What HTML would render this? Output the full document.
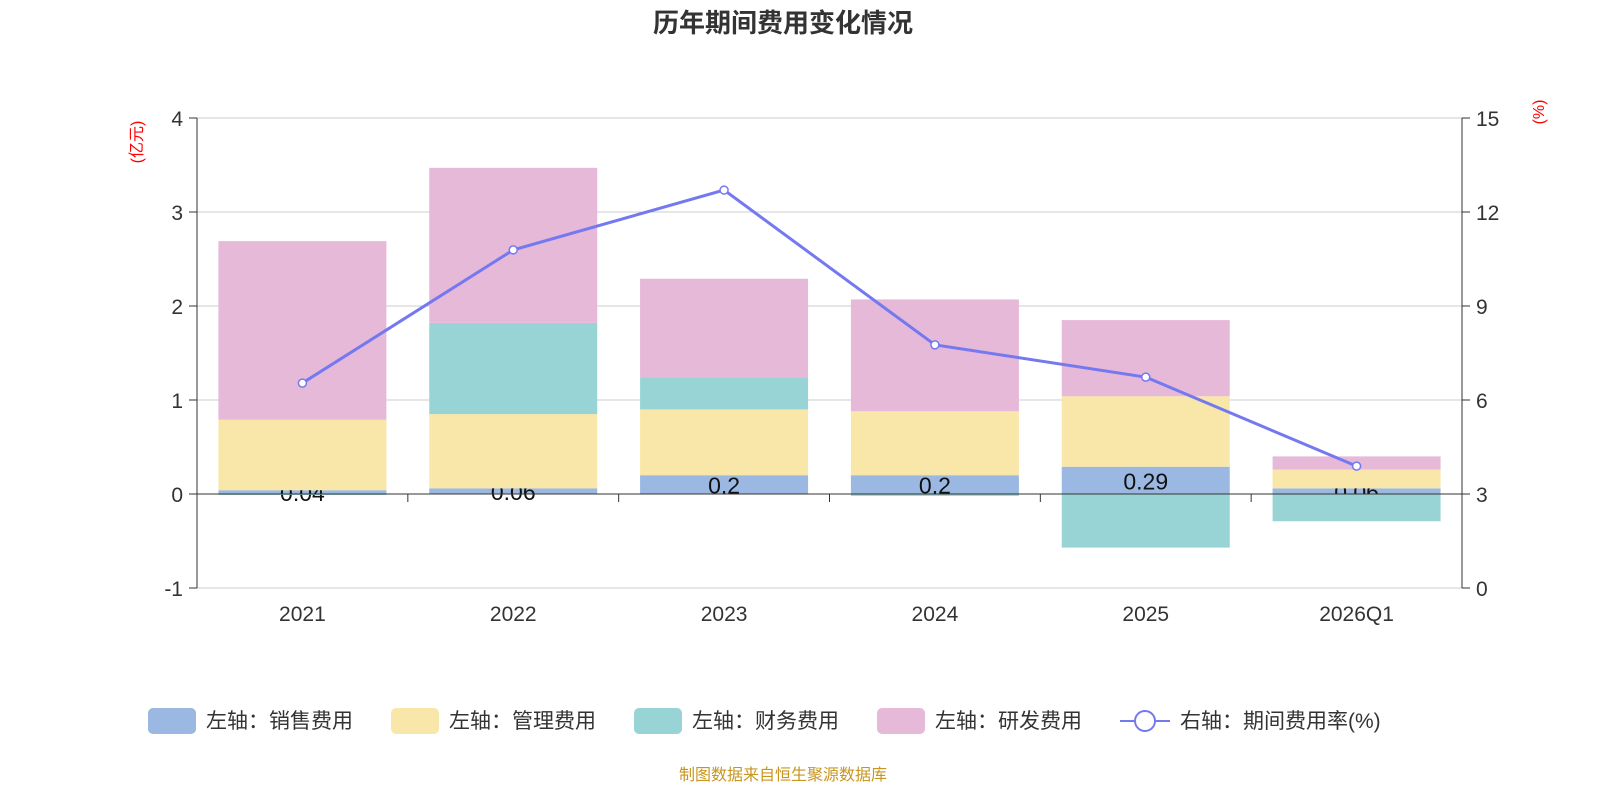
<!DOCTYPE html>
<html><head><meta charset="utf-8"><style>
body{margin:0;background:#fff;font-family:"Liberation Sans","Noto Sans CJK SC",sans-serif;}
</style></head><body>
<svg id="c" width="1600" height="800" xmlns="http://www.w3.org/2000/svg" font-family="Liberation Sans, Noto Sans CJK SC, sans-serif"></svg>
<script>
const categories=["2021","2022","2023","2024","2025","2026Q1"];
const sales=[0.04,0.06,0.2,0.2,0.29,0.06];
const mgmt=[0.75,0.79,0.70,0.68,0.75,0.20];
const fin=[-0.01,0.97,0.34,-0.02,-0.57,-0.29];
const rd=[1.90,1.65,1.05,1.19,0.81,0.14];
const rate=[6.54,10.79,12.70,7.76,6.73,3.89];
const leftTicks=[-1,0,1,2,3,4];
const rightTicks=[0,3,6,9,12,15];
const seriesNames=["左轴：销售费用","左轴：管理费用","左轴：财务费用","左轴：研发费用"];
const colors=["#9bb8e2","#f8e7a8","#98d4d6","#e6b9d9"];

const svg=document.getElementById('c');
const NS='http://www.w3.org/2000/svg';
const X0=197,X1=1462,YT=118,YB=588;
const yL=v=>YB-(v+1)/5*(YB-YT);
const yR=v=>YB-v/15*(YB-YT);
const bw=(X1-X0)/categories.length;
const xc=i=>X0+bw*(i+0.5);
function el(t,a,txt){const e=document.createElementNS(NS,t);for(const k in a)e.setAttribute(k,a[k]);if(txt!==undefined)e.textContent=txt;svg.appendChild(e);return e;}

let e=el('text',{x:783,y:32,'text-anchor':'middle','font-size':26,'font-weight':'bold',fill:'#333'},'历年期间费用变化情况');


leftTicks.forEach((t,i)=>{
  const y=yL(t);
  e=el('line',{x1:X0,x2:X1,y1:y,y2:y,stroke:'#ccc','stroke-width':1});
  
  e=el('line',{x1:X0-8,x2:X0,y1:y,y2:y,stroke:'#333'});
  
  e=el('text',{x:X0-14,y:y+8,'text-anchor':'end','font-size':21,fill:'#333'},String(t));
  
});
rightTicks.forEach(t=>{
  const y=yR(t);
  e=el('line',{x1:X1,x2:X1+8,y1:y,y2:y,stroke:'#333'});
  
  e=el('text',{x:X1+14,y:y+8,'font-size':21,fill:'#333'},String(t));
  
});
e=el('line',{x1:X0,x2:X0,y1:YT,y2:YB,stroke:'#333'});
e=el('line',{x1:X1,x2:X1,y1:YT,y2:YB,stroke:'#333'});
e=el('text',{x:0,y:0,'font-size':16,fill:'red',transform:'translate(142,142) rotate(-90)','text-anchor':'middle'},'(亿元)');

e=el('text',{x:0,y:0,'font-size':16,fill:'red',transform:'translate(1544,112) rotate(-90)','text-anchor':'middle'},'(%)');


const series=[sales,mgmt,fin,rd];
categories.forEach((c,i)=>{
  let pos=0,neg=0;
  series.forEach((s,k)=>{
    const v=s[i];let a,b;
    if(v>=0){a=pos;b=pos+v;pos=b;}else{a=neg;b=neg+v;neg=b;}
    const y1=yL(Math.max(a,b)),y2=yL(Math.min(a,b));
    e=el('rect',{x:xc(i)-84,y:y1,width:168,height:Math.max(0,y2-y1),fill:colors[k]});
    
    if(k===0){
      e=el('text',{x:xc(i),y:(yL(sales[i])+yL(0))/2+9,'text-anchor':'middle','font-size':23,fill:'#111'},String(sales[i]));
      
    }
  });
  e=el('text',{x:xc(i),y:621,'text-anchor':'middle','font-size':21,fill:'#333'},c);
  
});
e=el('line',{x1:X0,x2:X1,y1:yL(0),y2:yL(0),stroke:'#333'});
for(let i=0;i<=categories.length;i++){
  e=el('line',{x1:X0+bw*i,x2:X0+bw*i,y1:yL(0),y2:yL(0)+8,stroke:'#333'});
  
}
e=el('polyline',{points:rate.map((v,i)=>xc(i)+','+yR(v)).join(' '),fill:'none',stroke:'#7479f0','stroke-width':3});

rate.forEach((v,i)=>{
  e=el('circle',{cx:xc(i),cy:yR(v),r:4,fill:'#fff',stroke:'#7479f0','stroke-width':1.5});
  
});
const lx=[148,391,634,877];
seriesNames.forEach((n,k)=>{
  e=el('rect',{x:lx[k],y:708,width:48,height:26,rx:5,fill:colors[k]});
  
  e=el('text',{x:lx[k]+58,y:728,'font-size':21,fill:'#333'},n);
  
});
e=el('line',{x1:1120,x2:1170,y1:721,y2:721,stroke:'#7479f0','stroke-width':2});

e=el('circle',{cx:1145,cy:721,r:10,fill:'#fff',stroke:'#7479f0','stroke-width':2});

e=el('text',{x:1180,y:728,'font-size':21,fill:'#333'},'右轴：期间费用率(%)');

e=el('text',{x:783,y:780,'text-anchor':'middle','font-size':16,fill:'#c8961e'},'制图数据来自恒生聚源数据库');

</script>
</body></html>
